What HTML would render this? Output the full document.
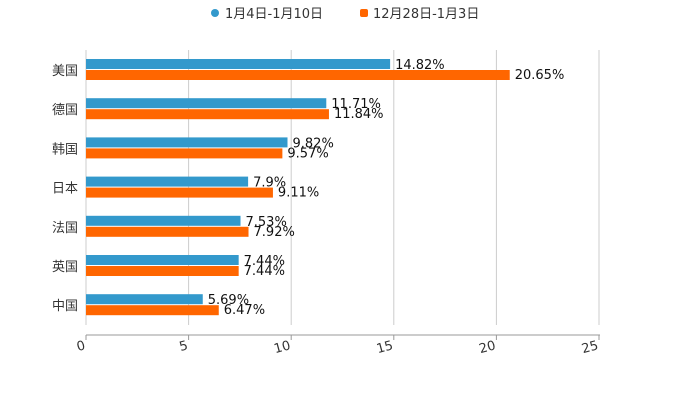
<!DOCTYPE html>
<html><head><meta charset="utf-8"><style>
body{margin:0;background:#fff}
svg text{font-family:"DejaVu Sans","Liberation Sans","Noto Sans CJK SC",sans-serif}
</style></head><body>
<svg id="c" width="700" height="400">
<g>
<g><circle cx="215" cy="13" r="4" fill="#3399cc"/><text x="225" y="18" font-size="13" fill="#333">1月4日-1月10日</text></g>
<g><rect x="360" y="9" width="8" height="8" rx="2" fill="#ff6600"/><text x="373" y="18" font-size="13" fill="#333">12月28日-1月3日</text></g>
</g>
<g id="grid"></g><g id="bars"></g><g id="axis"></g>
</svg>
<script>
const categories=["美国","德国","韩国","日本","法国","英国","中国"];
const seriesA=[14.82,11.71,9.82,7.9,7.53,7.44,5.69];
const seriesB=[20.65,11.84,9.57,9.11,7.92,7.44,6.47];
const labelsA=["14.82%","11.71%","9.82%","7.9%","7.53%","7.44%","5.69%"];
const labelsB=["20.65%","11.84%","9.57%","9.11%","7.92%","7.44%","6.47%"];
const ticks=[0,5,10,15,20,25];
const NS="http://www.w3.org/2000/svg";
const x=v=>86+v*(513/25);
const yc=i=>70+i*39.2;
function el(t,a,p){const e=document.createElementNS(NS,t);for(const k in a)e.setAttribute(k,a[k]);p.appendChild(e);return e;}
const g=document.getElementById('grid'),b=document.getElementById('bars'),ax=document.getElementById('axis');
ticks.forEach(t=>{
 const l=el('line',{x1:x(t),x2:x(t),y1:50,y2:325,stroke:'#ccc','stroke-width':1},g);
 
 
 const tk=el('line',{x1:x(t),x2:x(t),y1:335,y2:340,stroke:'#999'},ax);
 
 
 const tx=el('text',{x:x(t),y:349,'font-size':13,fill:'#333','text-anchor':'end',transform:`rotate(-15 ${x(t)} 349)`},ax);
 tx.textContent=t;
 
 
});
const axl=el('line',{x1:86,x2:600,y1:335,y2:335,stroke:'#999'},ax);


categories.forEach((c,i)=>{
 const cy=yc(i);
 const ct=el('text',{x:78,y:cy+5,'font-size':13,fill:'#333','text-anchor':'end'},ax);
 ct.textContent=c;
 
 
 const ra=el('rect',{x:86,y:cy-11,width:x(seriesA[i])-86,height:10,fill:'#3399cc'},b);
 
 
 const rb=el('rect',{x:86,y:cy,width:x(seriesB[i])-86,height:10,fill:'#ff6600'},b);
 
 
 const la=el('text',{x:x(seriesA[i])+5,y:cy-1,'font-size':13,fill:'#111'},b);
 la.textContent=labelsA[i];
 
 
 const lb=el('text',{x:x(seriesB[i])+5,y:cy+9,'font-size':13,fill:'#111'},b);
 lb.textContent=labelsB[i];
 
 
});
</script>
</body></html>
